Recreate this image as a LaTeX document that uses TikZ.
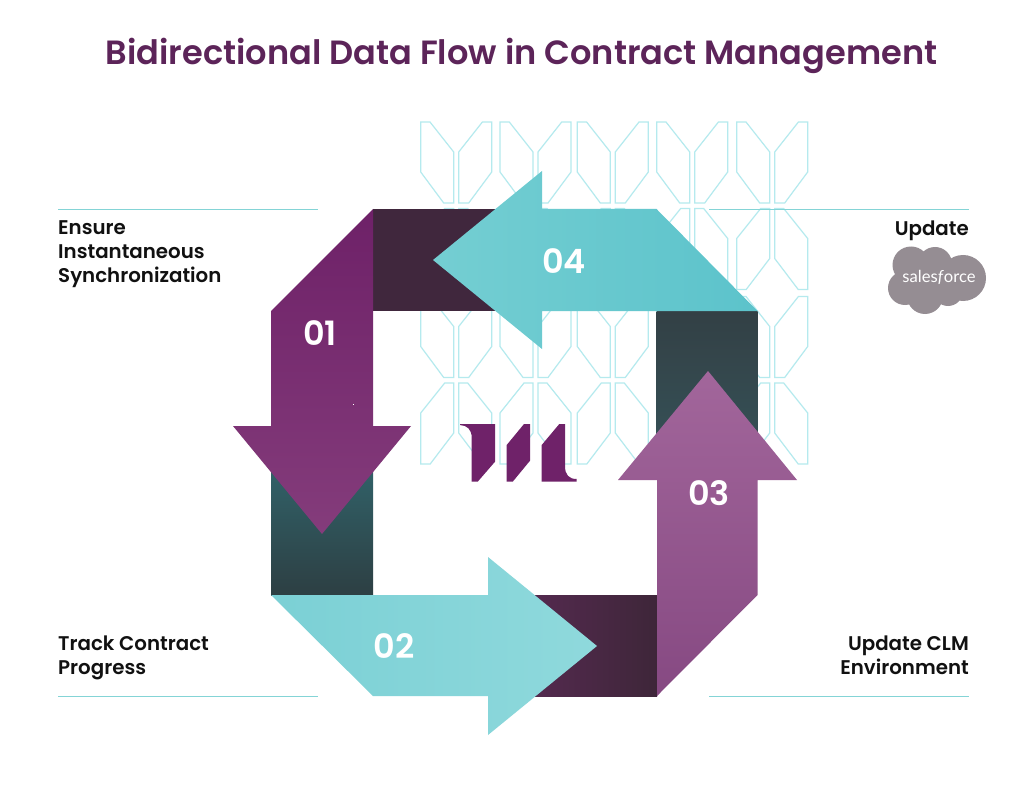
\documentclass[tikz,border=0pt]{standalone}
\usepackage{fontspec}
\setmainfont{Poppins}
\newfontfamily\popM{Poppins Medium}
\newfontfamily\popS{Poppins SemiBold}
\newfontfamily\sflogo{Lato}
\definecolor{pat}{HTML}{B5EAEE}
\definecolor{rule}{HTML}{84D4D6}
\definecolor{titlec}{HTML}{5C2459}
\definecolor{logoc}{HTML}{6F2269}
\definecolor{cloud}{HTML}{958D93}
\definecolor{labelc}{HTML}{111111}
\definecolor{bandA}{HTML}{40273D}
\definecolor{bandBt}{HTML}{334045}
\definecolor{bandBb}{HTML}{355056}
\definecolor{bandCl}{HTML}{552A50}
\definecolor{bandCr}{HTML}{3E2639}
\definecolor{bandDt}{HTML}{316269}
\definecolor{bandDb}{HTML}{2D3F43}
\definecolor{arAt}{HTML}{6E2168}
\definecolor{arAb}{HTML}{843C7B}
\definecolor{arBl}{HTML}{7BD0D5}
\definecolor{arBr}{HTML}{8FD9DC}
\definecolor{arCt}{HTML}{A2669B}
\definecolor{arCb}{HTML}{864982}
\definecolor{arDl}{HTML}{74CED2}
\definecolor{arDr}{HTML}{5CC3CB}
\tikzset{
  patcell/.style={draw=pat,line width=1.2pt,line join=miter},
  rulerline/.style={draw=rule,line width=1pt},
  lab/.style={font=\popS\fontsize{19.8}{24}\selectfont,text=labelc,inner sep=0pt},
  num/.style={font=\popS\fontsize{33.5}{34}\selectfont,text=white,inner sep=0pt},
  titlen/.style={font=\popS\fontsize{33.6}{38}\selectfont,text=titlec,inner sep=0pt},
}
\newcommand{\cellsA}[2]{%
  \begin{scope}[shift={(#1,#2)}]
    \draw[patcell] (0,0)--(9.3,0)--(33,30)--(33,81)--(23,81)--(0,50)--cycle;
    \draw[patcell] (71,0)--(61.7,0)--(38,30)--(38,81)--(48,81)--(71,50)--cycle;
  \end{scope}}
\newcommand{\cellsB}[2]{%
  \begin{scope}[shift={(#1,#2)}]
    \draw[patcell] (33,0)--(24,0)--(0,30)--(0,81)--(9.5,81)--(33,50)--cycle;
    \draw[patcell] (38,0)--(47,0)--(71,30)--(71,81)--(61.5,81)--(38,50)--cycle;
  \end{scope}}
\begin{document}
\begin{tikzpicture}[x=1pt,y=-1pt]
\useasboundingbox (0,0) rectangle (1024,799);
\fill[white] (0,0) rectangle (1024,799);
% background pattern
\foreach \xx in {420.7,500,577.3,656.7,736.7}{
  \cellsA{\xx}{122}
  \cellsB{\xx}{208.5}
  \cellsA{\xx}{296.5}
  \cellsB{\xx}{383}
}
% rules
\coordinate (r1a) at (58,209.5); \coordinate (r1b) at (318,209.5);
\coordinate (r2a) at (709,209.5); \coordinate (r2b) at (969,209.5);
\coordinate (r3a) at (58,696.5); \coordinate (r3b) at (318,696.5);
\coordinate (r4a) at (709,696.5); \coordinate (r4b) at (969,696.5);
\draw[rulerline] (r1a)--(r1b);
\draw[rulerline] (r2a)--(r2b);
\draw[rulerline] (r3a)--(r3b);
\draw[rulerline] (r4a)--(r4b);
% dark bands
\fill[bandA] (373,209) rectangle (505,311);
\shade[top color=bandBt,bottom color=bandBb] (656.5,311) rectangle (757.5,445);
\shade[left color=bandCl,right color=bandCr] (525,595) rectangle (657,696);
\shade[top color=bandDt,bottom color=bandDb] (271,465) rectangle (373,595);
% arrows
\shade[top color=arAt,bottom color=arAb]
  (373,209)--(271,311)--(271,426)--(233,426)--(322,534)--(411,426)--(373,426)--cycle;
\shade[left color=arBl,right color=arBr]
  (271,595)--(373,696)--(488,696)--(488,735)--(597,646)--(488,557)--(488,595)--cycle;
\shade[top color=arCt,bottom color=arCb]
  (657,696)--(757.5,595)--(757.5,480)--(797,480)--(708,371)--(618,480)--(657,480)--cycle;
\shade[left color=arDl,right color=arDr]
  (757.5,311)--(656.5,209)--(542,209)--(542,171)--(433,260)--(542,349)--(542,311)--cycle;
% tiny speck
\fill[white] (352.5,403.5) rectangle (354,405);
% centre mark
\fill[logoc] (460,424)--(495,424)--(495,461.7)--(477.7,481.7)--(471.7,481.7)--(471.7,438) .. controls (471.7,429) and (467,425.5) .. (460,425)--cycle;
\fill[logoc] (506.7,445)--(524,424)--(530,424)--(530,460.7)--(512.7,481.7)--(506.7,481.7)--cycle;
\fill[logoc] (541.7,445)--(559.3,424)--(565,424)--(565,466) .. controls (565,475) and (569,479) .. (576.7,479)--(576.7,481.7)--(541.7,481.7)--cycle;
% salesforce cloud
\fill[cloud] (911,265) circle (18.5) (935,264) circle (17) (963,278) circle (23) (905,288) circle (17) (925,296) circle (18) (948,291) circle (15) (930,280) circle (20);
\node[font=\sflogo\fontsize{16.6}{17}\selectfont,text=white,inner sep=0pt] (sf) at (939,277) {sales\textit{f}orce};
% texts
\node[titlen,anchor=center] (title) at (521.5,56) {Bidirectional Data Flow in Contract Management};
\node[lab,anchor=north west,align=left] (t1) at (58,220.5) {Ensure\\Instantaneous\\Synchronization};
\node[lab,anchor=north east,align=right] (t2) at (969,220.5) {Update};
\node[lab,anchor=north west,align=left] (t3) at (58,636) {Track Contract\\Progress};
\node[lab,anchor=north east,align=right] (t4) at (969,636) {Update CLM\\Environment};
\node[num] (n1) at (320,333) {01};
\node[num] (n2) at (394,646) {02};
\node[num] (n3) at (709,493.5) {03};
\node[num] (n4) at (564,261.5) {04};
\end{tikzpicture}
\end{document}
